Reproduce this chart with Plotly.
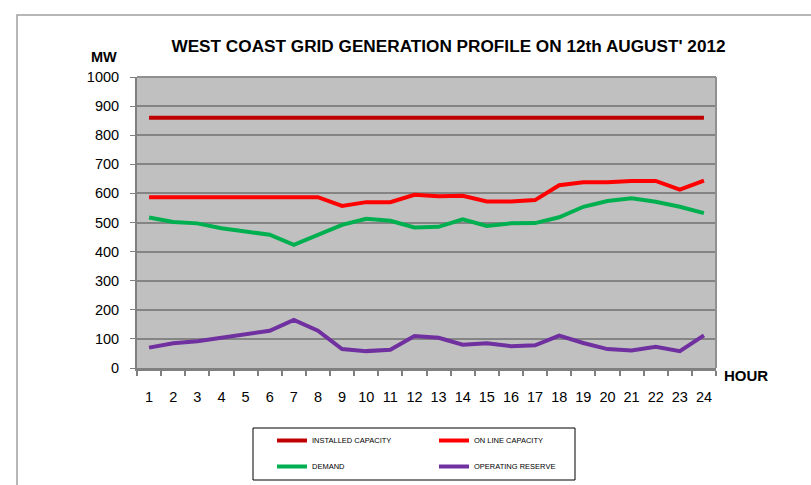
import plotly.graph_objects as go

hours = [str(h) for h in range(1, 25)]
installed = [860] * 24
online = [587, 587, 587, 587, 587, 587, 587, 587, 557, 570, 570, 595,
          590, 592, 572, 572, 577, 628, 638, 638, 643, 643, 613, 644]
demand = [517, 502, 497, 480, 469, 458, 423, 459, 492, 513, 506, 483,
          485, 511, 488, 497, 498, 518, 554, 574, 583, 571, 554, 532]
reserve = [70, 85, 92, 105, 117, 128, 165, 128, 65, 58, 63, 110,
           104, 80, 85, 75, 78, 111, 86, 65, 60, 73, 58, 112]

FONT = "Liberation Sans"
L, R, T, B = 137, 716, 77, 368
PW, PH = R - L, B - T


def px(x):
    return (x - L) / PW


def py(y):
    return (B - y) / PH


fig = go.Figure()
series = [
    ("INSTALLED CAPACITY", installed, "#C00000", "legend"),
    ("ON LINE CAPACITY", online, "#FF0000", "legend2"),
    ("DEMAND", demand, "#00B050", "legend"),
    ("OPERATING RESERVE", reserve, "#7030A0", "legend2"),
]
for name, vals, col, lg in series:
    fig.add_trace(go.Scatter(
        x=hours, y=vals, name=name, mode="lines",
        line=dict(color=col, width=4),
        legend=lg, legendgroup=name,
    ))

legend_common = dict(
    font=dict(family=FONT, size=7.5, color="#000000"),
    bgcolor="rgba(0,0,0,0)", orientation="v", tracegroupgap=7,
    xref="paper", yref="paper", yanchor="top", xanchor="left",
)

fig.update_layout(
    width=811, height=485,
    margin=dict(l=L, r=811 - R, t=T, b=485 - B, autoexpand=False),
    paper_bgcolor="white",
    plot_bgcolor="#C0C0C0",
    font=dict(family=FONT, size=14.5, color="#000000"),
    title=dict(text="<b>WEST COAST GRID GENERATION PROFILE ON 12th AUGUST' 2012</b>",
               x=448.5 / 811, xanchor="center", y=1 - 46 / 485, yanchor="middle",
               font=dict(family=FONT, size=17.2, color="#000000")),
    legend=dict(x=px(272), y=py(426), **legend_common),
    legend2=dict(x=px(434), y=py(426), **legend_common),
    xaxis=dict(
        type="category", range=[-0.5, 23.5], showgrid=False, showline=True,
        linecolor="#808080", linewidth=3,
        ticks="outside", tickson="boundaries", ticklen=5, tickcolor="#808080", tickwidth=2,
        ticklabelstandoff=14, tickfont=dict(size=14.5), tickangle=0,
    ),
    yaxis=dict(
        range=[0, 1000], dtick=100, showgrid=True, gridcolor="#848484", gridwidth=1.5,
        showline=True, linecolor="#808080", linewidth=2, ticks="outside", ticklen=5,
        tickcolor="#808080", tickfont=dict(size=14.5), zeroline=False,
        ticklabelstandoff=8,
    ),
    showlegend=True,
    shapes=[
        dict(type="rect", xref="paper", yref="paper", x0=px(17), x1=px(840), y0=py(520), y1=py(15),
             line=dict(color="#A0A0A0", width=1.5), layer="below"),
        dict(type="line", xref="paper", yref="paper", x0=1, x1=1, y0=0, y1=1,
             line=dict(color="#909090", width=2)),
        dict(type="line", xref="paper", yref="paper", x0=0, x1=1, y0=1, y1=1,
             line=dict(color="#909090", width=2)),
        dict(type="rect", xref="paper", yref="paper",
             x0=px(253), x1=px(575), y0=py(480), y1=py(428),
             line=dict(color="#000000", width=1)),
    ],
    annotations=[
        dict(text="<b>MW</b>", xref="paper", yref="paper", x=px(104), y=py(57),
             showarrow=False, xanchor="center", yanchor="middle", font=dict(size=14.5)),
        dict(text="<b>HOUR</b>", xref="paper", yref="paper", x=px(722), y=py(375),
             showarrow=False, xanchor="left", yanchor="middle", font=dict(size=15)),
    ],
)

fig.write_html("out.html", config={"displayModeBar": False},
               post_script="document.body.style.margin='0';")
